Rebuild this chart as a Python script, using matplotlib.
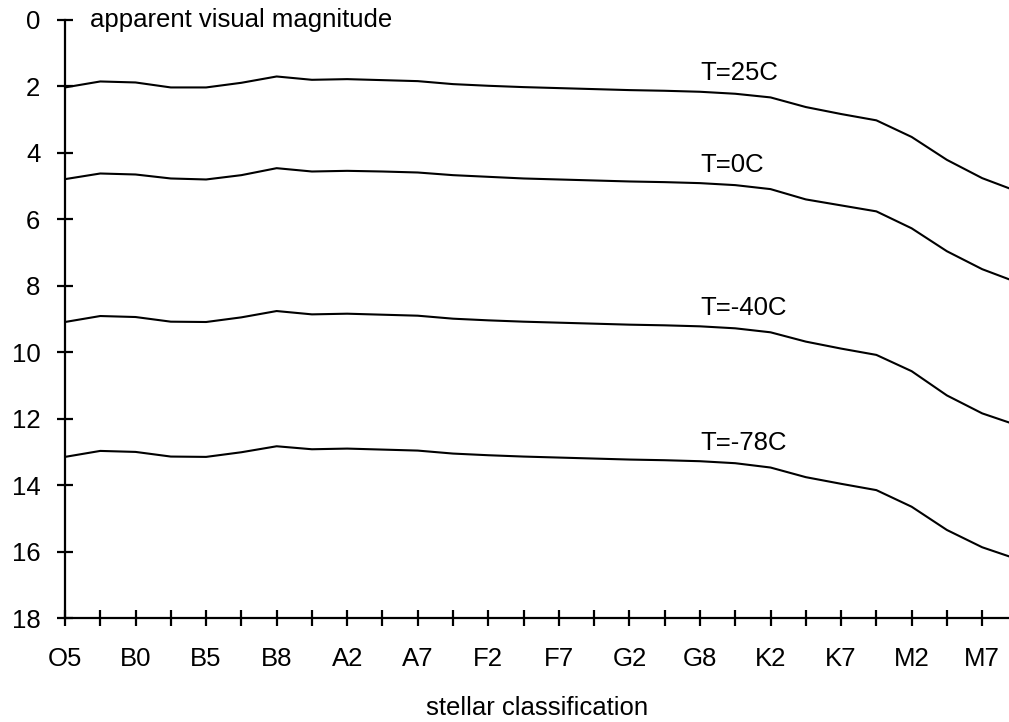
import matplotlib.pyplot as plt

plt.rcParams['font.family'] = ['Liberation Sans', 'DejaVu Sans']

# spectral classes, one tick per class, labels on every other one
class_labels = ['O5', 'B0', 'B5', 'B8', 'A2', 'A7', 'F2',
                'F7', 'G2', 'G8', 'K2', 'K7', 'M2', 'M7']
n_ticks = 27

# apparent visual magnitude per class at four temperatures
mag_25 = [2.03, 1.85, 1.88, 2.03, 2.03, 1.89, 1.70, 1.80, 1.78, 1.81,
          1.84, 1.93, 1.98, 2.02, 2.05, 2.08, 2.11, 2.13, 2.16, 2.22,
          2.33, 2.62, 2.83, 3.02, 3.52, 4.21, 4.76, 5.16]
mag_0 = [4.79, 4.62, 4.65, 4.77, 4.80, 4.67, 4.46, 4.56, 4.54, 4.56,
         4.59, 4.67, 4.72, 4.77, 4.80, 4.83, 4.86, 4.88, 4.91, 4.97,
         5.09, 5.40, 5.58, 5.76, 6.27, 6.96, 7.50, 7.90]
mag_m40 = [9.09, 8.91, 8.94, 9.08, 9.09, 8.95, 8.76, 8.86, 8.84, 8.87,
           8.90, 8.99, 9.04, 9.08, 9.11, 9.14, 9.17, 9.19, 9.22, 9.28,
           9.40, 9.68, 9.89, 10.08, 10.57, 11.30, 11.84, 12.20]
mag_m78 = [13.15, 12.97, 13.00, 13.14, 13.15, 13.01, 12.83, 12.92, 12.90, 12.93,
           12.96, 13.05, 13.10, 13.14, 13.17, 13.20, 13.23, 13.25, 13.28, 13.34,
           13.47, 13.76, 13.96, 14.15, 14.65, 15.35, 15.87, 16.23]

series = [('T=25C', mag_25), ('T=0C', mag_0),
          ('T=-40C', mag_m40), ('T=-78C', mag_m78)]
label_at = 18
fs = 18.5

fig = plt.figure(figsize=(10.09, 7.22), dpi=100)
ax = fig.add_axes([0.0644, 0.144, 0.9356, 0.8283])

for name, vals in series:
    ax.plot(range(len(vals)), vals, color='black', lw=1.5)
    ax.text(label_at, vals[label_at] - 0.55, name, fontsize=fs,
            ha='left', va='center')

ax.set_xlim(0, 26.76)
ax.set_ylim(18, 0)
ax.set_yticks(range(0, 19, 2))
ax.set_xticks(range(n_ticks))
ticklabels = [''] * n_ticks
for i, lab in enumerate(class_labels):
    ticklabels[2 * i] = lab
ax.set_xticklabels(ticklabels)

for side in ['top', 'right']:
    ax.spines[side].set_visible(False)
for side in ['left', 'bottom']:
    ax.spines[side].set_linewidth(1.6)
ax.tick_params(direction='inout', length=11.5, width=1.6,
               labelsize=fs, pad=12)
ax.tick_params(axis='x', pad=15)

ax.set_xlabel('stellar classification', fontsize=fs, labelpad=18)
ax.annotate('apparent visual magnitude', xy=(0, 1), xycoords='axes fraction',
            xytext=(18, 0), textcoords='offset points',
            fontsize=fs, ha='left', va='center')

fig.savefig('out.png', dpi=100)
